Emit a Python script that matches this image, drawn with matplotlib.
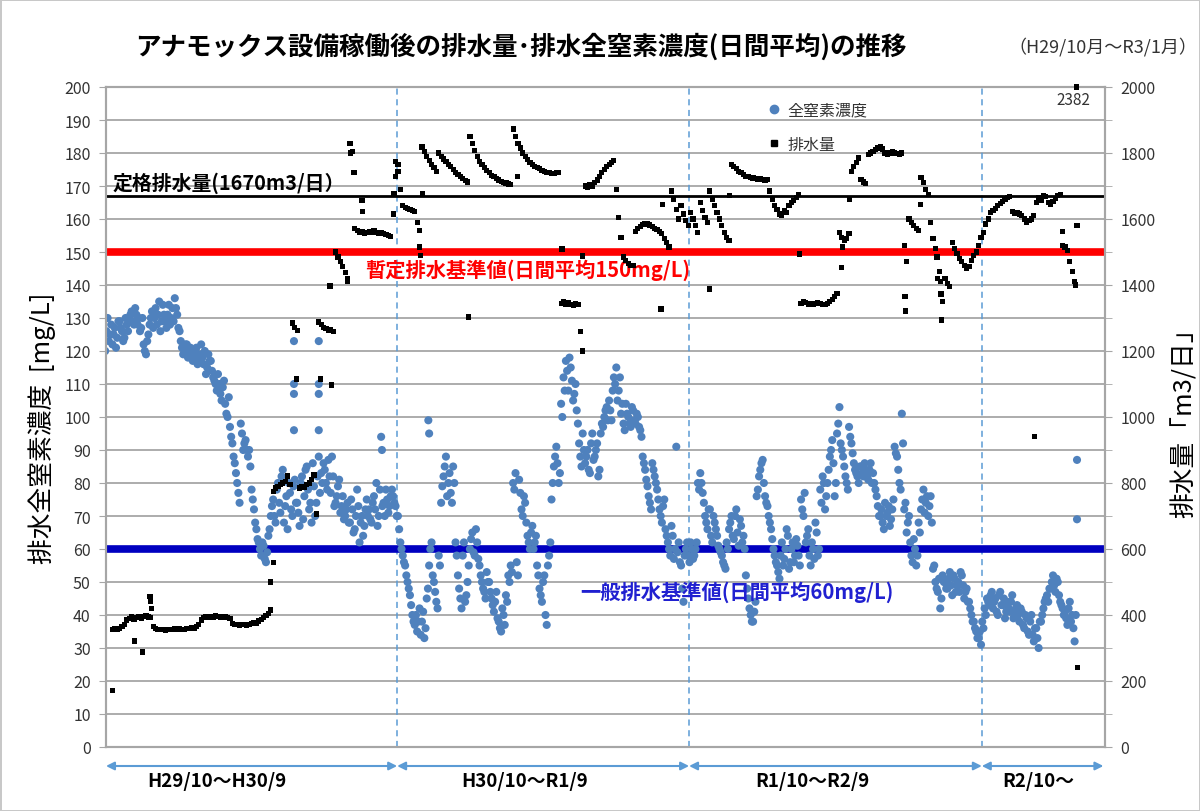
import numpy as np
import matplotlib
matplotlib.use('Agg')
import matplotlib.pyplot as plt
import matplotlib.transforms as mtransforms
from matplotlib.lines import Line2D

plt.rcParams['font.family'] = ['Noto Sans CJK JP', 'DejaVu Sans']

nan = np.nan
STEP = 3  # days between samples, day 0 = 2017/10/1

# 全窒素濃度 (mg/L), one value every 3 days
conc = [
    120, 130, 125, 122, 127, 124, 129, 126, 124, 128,
    129, 132, 128, 131, 130, 127, 122, 119, 125, 130,
    127, 133, 131, 126, 134, 129, 131, 128, 133, 136,
    131, 126, 121, 120, 122, 119, 120, 118, 121, 117,
    122, 116, 113, 119, 117, 112, 110, 113, 107, 109,
    104, 100, 97, 92, 86, 80, 74, 95, 92, 90,
    90, 78, 72, 66, 62, 58, 61, 56, 64, 70,
    75, 68, 80, 71, 84, 73, 66, 77, 70, 81,
    74, 67, 82, 76, 85, 72, 68, 79, 74, 88,
    83, 86, 80, 87, 77, 82, 74, 79, 71, 76,
    70, 74, 68, 72, 66, 78, 62, 70, 67, 75,
    72, 68, 76, 80, 70, 94, 74, 78, 71, 76,
    76, 73, 70, 62, 58, 55, 50, 46, 40, 37,
    35, 42, 38, 33, 45, 55, 62, 50, 44, 58,
    74, 82, 88, 80, 77, 85, 62, 52, 45, 58,
    44, 50, 60, 65, 58, 62, 55, 50, 47, 53,
    50, 45, 41, 47, 38, 35, 40, 46, 52, 55,
    80, 83, 52, 77, 70, 74, 64, 60, 67, 62,
    55, 48, 44, 52, 37, 58, 75, 85, 91, 80,
    104, 112, 117, 108, 115, 105, 110, 98, 88, 95,
    86, 90, 83, 95, 88, 92, 84, 98, 100, 103,
    105, 99, 112, 115, 108, 101, 98, 104, 100, 97,
    102, 98, 100, 96, 88, 84, 79, 74, 86, 82,
    78, 72, 68, 75, 64, 60, 67, 57, 91, 62,
    55, 44, 60, 58, 62, 57, 60, 80, 83, 77,
    70, 66, 72, 62, 68, 64, 60, 58, 55, 62,
    66, 70, 63, 72, 61, 67, 64, 52, 45, 40,
    38, 44, 78, 84, 87, 76, 73, 68, 63, 58,
    55, 51, 62, 57, 66, 54, 60, 56, 63, 58,
    75, 70, 62, 66, 55, 60, 68, 58, 78, 82,
    72, 80, 88, 93, 76, 95, 103, 90, 85, 80,
    97, 92, 86, 83, 80, 85, 82, 84, 81, 86,
    83, 78, 73, 70, 68, 74, 71, 67, 72, 91,
    88, 80, 101, 72, 65, 70, 58, 63, 55, 68,
    72, 78, 74, 70, 76, 54, 50, 47, 42, 52,
    50, 48, 53, 46, 51, 49, 47, 52, 45, 48,
    44, 40, 38, 35, 33, 31, 36, 40, 44, 46,
    42, 45, 40, 47, 43, 39, 44, 41, 46, 40,
    43, 38, 41, 36, 39, 34, 40, 32, 36, 30,
    38, 42, 45, 44, 48, 52, 47, 50, 44, 42,
    41, 37, 44, 40, 32, 69,
]

# 全窒素濃度, the days in between (1.5 days after each value above)
conc_mid = [
    126, 123, 128, 125, 121, 129, 127, 123, 130, 126,
    131, 129, 133, 128, 126, 130, 120, 123, 128, 132,
    130, 128, 135, 129, 131, 127, 134, 130, 129, 133,
    127, 123, 119, 122, 118, 121, 117, 120, 116, 119,
    118, 120, 115, 117, 114, 111, 108, 110, 105, 111,
    101, 106, 94, 88, 83, 77, 98, 90, 93, 88,
    85, 75, 68, 63, 60, 62, 57, 59, 66, 73,
    70, 78, 74, 82, 68, 76, 80, 72, 79, 74,
    71, 80, 69, 84, 78, 74, 86, 70, 82, 77,
    80, 84, 78, 82, 88, 73, 76, 81, 73, 69,
    72, 68, 75, 65, 70, 73, 68, 64, 72, 70,
    69, 74, 72, 67, 78, 73, 70, 75, 73, 78,
    74, 70, 66, 60, 56, 52, 48, 43, 38, 40,
    38, 34, 41, 36, 48, 60, 52, 47, 42, 55,
    79, 85, 76, 83, 74, 80, 58, 48, 42, 62,
    46, 55, 63, 59, 66, 57, 52, 48, 45, 50,
    47, 43, 44, 39, 36, 42, 37, 44, 50, 53,
    78, 56, 81, 72, 76, 68, 62, 65, 60, 64,
    52, 46, 50, 40, 55, 62, 80, 88, 86, 83,
    100, 108, 114, 118, 111, 107, 102, 92, 85, 90,
    88, 84, 92, 87, 90, 82, 95, 97, 102, 99,
    102, 108, 110, 105, 112, 104, 96, 101, 98, 103,
    99, 101, 97, 94, 86, 81, 76, 72, 84, 80,
    75, 70, 73, 66, 62, 58, 64, 60, 59, 56,
    48, 58, 62, 56, 60, 58, 62, 78, 80, 74,
    68, 72, 64, 70, 66, 61, 59, 56, 54, 60,
    68, 64, 70, 65, 69, 62, 60, 48, 42, 38,
    41, 76, 82, 86, 80, 74, 70, 66, 60, 56,
    53, 58, 55, 60, 64, 56, 62, 58, 61, 55,
    72, 77, 64, 58, 62, 57, 65, 60, 74, 80,
    76, 84, 90, 86, 80, 98, 92, 88, 82, 78,
    94, 89, 84, 82, 85, 83, 86, 82, 84, 80,
    80, 76, 70, 72, 66, 70, 73, 69, 75, 89,
    84, 78, 92, 74, 68, 62, 56, 60, 58, 65,
    75, 71, 76, 73, 68, 55, 48, 51, 45, 50,
    48, 51, 49, 52, 47, 50, 53, 49, 47, 44,
    42, 38, 36, 33, 35, 38, 42, 45, 43, 47,
    44, 41, 46, 43, 45, 41, 42, 44, 39, 42,
    40, 42, 37, 40, 35, 38, 34, 36, 33, 38,
    40, 44, 46, 48, 50, 49, 51, 46, 43, 40,
    39, 42, 38, 36, 40,
]

# 排水量 (m3/日), same dates as conc
flow = [
    nan, nan, nan, 355, 358, 356, 360, 365, 372, 385,
    390, 395, 388, 392, 396, 390, 395, 398, 394, 392,
    365, 358, 356, 355, 357, 354, 356, 355, 357, 360,
    356, 358, 355, 357, 360, 358, 362, 360, 365, 370,
    385, 392, 395, 393, 396, 394, 397, 395, 392, 394,
    396, 393, 390, 375, 372, 370, 368, 372, 370, 368,
    372, 374, 378, 376, 382, 386, 392, 398, 405, 415,
    775, 785, 790, 795, 800, 805, 821, 795, 1285, 1272,
    1262, 785, 790, 788, 795, 800, 810, 824, 706, 1288,
    1280, 1272, 1268, 1262, 1266, 1260, 1500, 1485, 1470, 1455,
    1438, 1420, 1830, 1805, 1570, 1565, 1560, 1562, 1556, 1560,
    1562, 1558, 1565, 1560, 1555, 1560, 1557, 1552, 1550, 1548,
    1615, 1730, 1765, 1690, 1640, 1635, 1632, 1628, 1625, 1622,
    1590, 1565, 1818, 1805, 1790, 1778, 1766, 1755, 1745, 1800,
    1790, 1782, 1775, 1766, 1758, 1750, 1742, 1735, 1728, 1722,
    1716, 1712, 1850, 1830, 1808, 1790, 1775, 1765, 1755, 1746,
    1740, 1733, 1728, 1722, 1718, 1714, 1711, 1709, 1706, 1705,
    1873, 1850, 1830, 1815, 1800, 1790, 1780, 1772, 1765, 1760,
    1757, 1752, 1748, 1745, 1742, 1740, 1738, 1738, 1740, 1742,
    1345, 1350, 1340, 1348, 1342, 1338, 1345, 1340, 1260, 1200,
    1700, 1695, 1705, 1700, 1710, 1718, 1728, 1740, 1750, 1760,
    1765, 1772, 1778, 1690, 1605, 1545, 1485, 1475, 1465, 1460,
    1458, 1563, 1570, 1578, 1583, 1586, 1585, 1582, 1578, 1572,
    1568, 1563, 1555, 1540, 1528, 1515, 1685, 1660, 1630, 1600,
    1640, 1615, 1595, 1580, 1620, 1600, 1580, 1560, 1650, 1625,
    1605, 1590, 1685, 1660, 1640, 1620, 1600, 1580, 1560, 1545,
    1535, 1765, 1760, 1752, 1745, 1740, 1735, 1730, 1728, 1725,
    1724, 1722, 1720, 1722, 1720, 1718, 1720, 1685, 1660, 1640,
    1630, 1615, 1610, 1625, 1620, 1640, 1650, 1655, 1665, 1675,
    1345, 1350, 1348, 1342, 1345, 1340, 1343, 1347, 1345, 1342,
    1340, 1345, 1350, 1355, 1365, 1375, 1560, 1545, 1535, 1540,
    1555, 1745, 1760, 1772, 1785, 1720, 1712, 1708, 1795, 1800,
    1805, 1810, 1815, 1818, 1812, 1800, 1795, 1800, 1805, 1800,
    1798, 1795, 1800, 1520, 1470, 1600, 1590, 1580, 1570, 1565,
    1725, 1710, 1690, 1675, 1590, 1540, 1510, 1420, 1410, 1350,
    1420, 1405, 1395, 1530, 1510, 1495, 1480, 1470, 1460, 1450,
    1455, 1475, 1490, 1500, 1520, 1545, 1560, 1585, 1600, 1620,
    1625, 1632, 1640, 1648, 1652, 1660, 1665, 1668, 1622, 1618,
    1620, 1615, 1610, 1600, 1590, 1595, 1600, 1610, 1650, 1665,
    1655, 1670, 1668, 1650, 1645, 1652, 1662, 1672, 1675, 1520,
    1515, 1505, 1470, 1440, 1410, 1580,
]

# single points off the regular sampling (day, value)
conc_extra_day = [236, 236, 236, 236, 267, 267, 267, 267, 346, 404, 405, 1215]
conc_extra = [123, 110, 107, 96, 123, 110, 107, 96, 90, 99, 95, 87]

flow_extra_day = [9, 37, 47, 56, 57, 58, 207, 210, 239, 269, 281, 283,
                  303, 307, 311, 321, 322, 361, 363, 366, 393, 394, 397,
                  454, 515, 571, 597, 695, 697, 756, 781, 868, 921, 922,
                  931, 1000, 1001, 1019, 1040, 1043, 1045, 1046, 1162,
                  1197, 1213, 1214, 1216]
flow_extra = [170, 321, 288, 455, 440, 420, 500, 560, 1115, 1115, 1397, 1097,
              1412, 1800, 1740, 1655, 1622, 1676, 1775, 1745, 1515, 1490, 1676,
              1303, 1730, 1509, 1488, 1327, 1645, 1388, 1670, 1494, 1454, 1515,
              1660, 1364, 1321, 1645, 1485, 1442, 1373, 1294, 940,
              1563, 1400, 2382, 242]

period_edges = [1, 365, 730, 1096, 1248]
period_labels = ['H29/10～H30/9', 'H30/10～R1/9', 'R1/10～R2/9', 'R2/10～']
period_label_day = [140, 525, 884, 1167]

rated_flow = 1670
limit_temp = 150
limit_general = 60

blue = '#4F81BD'
days = np.arange(len(conc)) * STEP
days_mid = np.arange(len(conc_mid)) * STEP + STEP / 2

fig = plt.figure(figsize=(12, 8.12), dpi=100)
fig.patch.set_edgecolor('#c8c8c8')
fig.patch.set_linewidth(2)
ax = fig.add_axes([106 / 1200, 1 - 748 / 812, 999 / 1200, 660 / 812])
ax2 = ax.twinx()

ax.set_xlim(1, 1250)
ax.set_ylim(0, 200)
ax2.set_ylim(0, 2000)
ax.set_yticks(range(0, 201, 10))
ax2.set_yticks(range(0, 2001, 200))
ax2.set_yticks(range(0, 2001, 100), minor=True)
ax.set_xticks([])
ax.grid(axis='y', color='#a6a6a6', lw=1.3)
ax.set_axisbelow(True)
for a in (ax, ax2):
    for s in a.spines.values():
        s.set_color('#a6a6a6')
        s.set_linewidth(1.5)
ax.tick_params(axis='y', direction='out', length=5, color='#a6a6a6', labelsize=11.5,
               labelcolor='#333333', pad=6)
ax2.tick_params(axis='y', which='both', direction='out', length=5, color='#a6a6a6',
                labelsize=11.5, labelcolor='#333333', pad=6)

for d in period_edges[1:4]:
    ax.axvline(d, color='#5B9BD5', ls=(0, (4, 3)), lw=1.1, zorder=1)

ax.axhline(limit_temp, color='#ff0000', lw=5.5, zorder=2)
ax.axhline(limit_general, color='#0000c0', lw=5.5, zorder=2)
ax2.axhline(rated_flow, color='black', lw=2, zorder=1)

ax.scatter(days, conc, s=34, color=blue, edgecolors='none', zorder=3)
ax.scatter(days_mid, conc_mid, s=34, color=blue, edgecolors='none', zorder=3)
ax.scatter(conc_extra_day, conc_extra, s=34, color=blue, edgecolors='none', zorder=3)
ax2.scatter(days, flow, marker='s', s=14, color='black', edgecolors='none', zorder=3)
ax2.scatter(flow_extra_day, np.minimum(flow_extra, 2000), marker='s', s=14,
            color='black', edgecolors='none', zorder=3, clip_on=False)
ax2.text(1210, 1962, '2382', ha='center', va='center', fontsize=11, color='#333333')

ax2.text(9, 1678, '定格排水量(1670m3/日）', fontsize=14.3, fontweight='bold', va='bottom')
ax.text(325, 144.8, '暫定排水基準値(日間平均150mg/L)', fontsize=14.6, fontweight='bold',
        color='#ff0000', va='center')
ax.text(594, 47.3, '一般排水基準値(日間平均60mg/L)', fontsize=14.6, fontweight='bold',
        color='#2020d0', va='center')

fig.text(135 / 1200, 1 - 47 / 812, 'アナモックス設備稼働後の排水量･排水全窒素濃度(日間平均)の推移',
         fontsize=18.4, fontweight='bold', va='center')
fig.text(1197 / 1200, 1 - 47 / 812, '（H29/10月～R3/1月）', fontsize=13, ha='right',
         va='center', color='#333333')
fig.text(42 / 1200, 1 - 428 / 812, '排水全窒素濃度  [mg/L]', fontsize=18.5, rotation=90,
         ha='center', va='center')
fig.text(1185 / 1200, 1 - 417 / 812, '排水量「m3/日」', fontsize=18.5, rotation=90,
         ha='center', va='center')

handles = [Line2D([], [], marker='o', ls='', color=blue, markersize=6),
           Line2D([], [], marker='s', ls='', color='black', markersize=4.5)]
fig.legend(handles, ['全窒素濃度', '排水量'], loc='upper left',
           bbox_to_anchor=(752 / 1200, 1 - 88 / 812), frameon=False, fontsize=11.5,
           labelspacing=1.1, handletextpad=0.3, handlelength=1.0, labelcolor='#333333')

trans = mtransforms.blended_transform_factory(ax.transData, fig.transFigure)
for i in range(4):
    ax.annotate('', xy=(period_edges[i + 1], 1 - 767 / 812),
                xytext=(period_edges[i], 1 - 767 / 812),
                xycoords=trans, textcoords=trans, annotation_clip=False,
                arrowprops=dict(arrowstyle='<|-|>', color='#5B9BD5', lw=1.5,
                                shrinkA=0, shrinkB=0, mutation_scale=12))
    ax.text(period_label_day[i], 1 - 782 / 812, period_labels[i], transform=trans,
            ha='center', va='center', fontsize=13.5, fontweight='bold')

fig.savefig('out.png', dpi=100, edgecolor=fig.get_edgecolor())
